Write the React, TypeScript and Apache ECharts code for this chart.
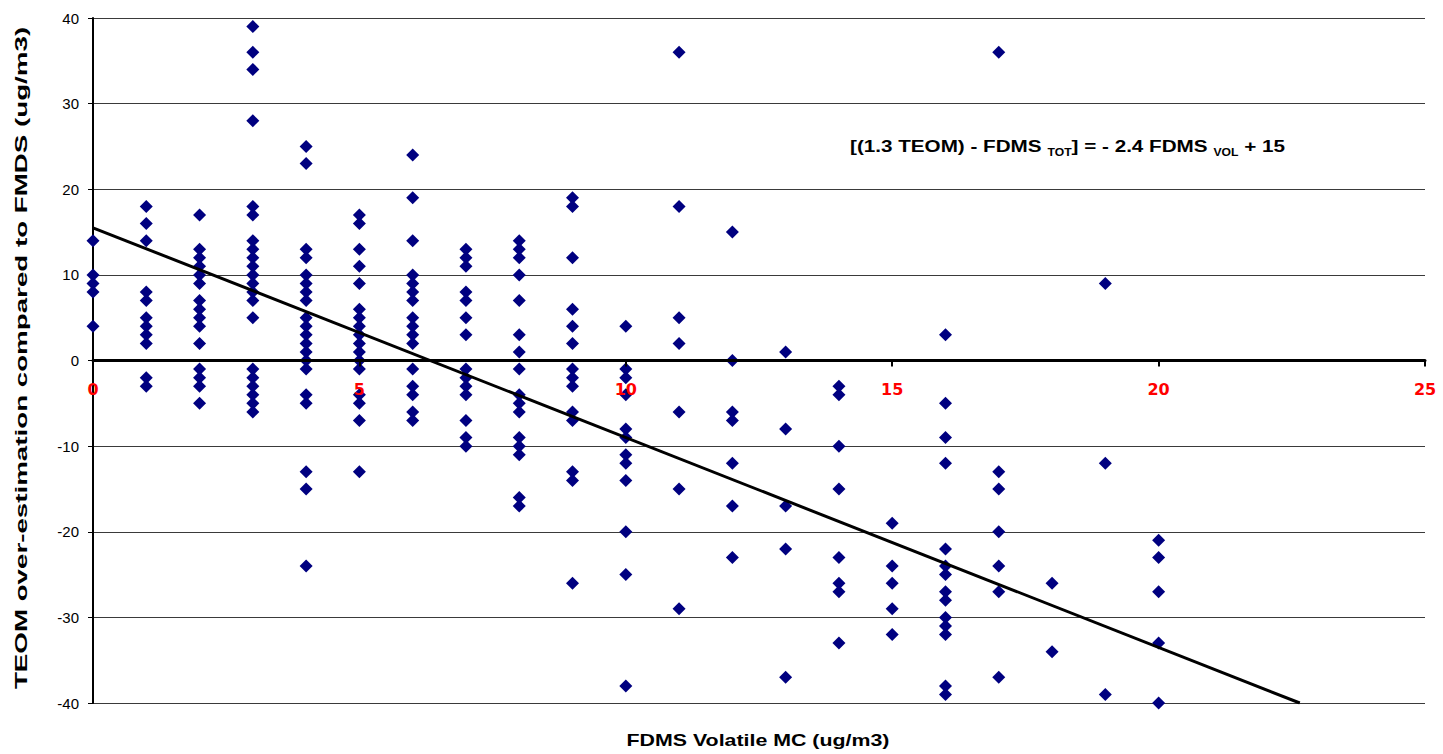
import React, { useEffect, useRef } from "react";
import * as echarts from "echarts";

// FDMS volatile MC (x) and TEOM over-estimation values (y) per x column
const volatileMC = [0, 1, 2, 3, 4, 5, 6, 7, 8, 9, 10, 11, 12, 13, 14, 15, 16, 17, 18, 19, 20];
const overEstimation: number[][] = [
  [14, 10, 9, 8, 4],
  [18, 16, 14, 8, 7, 5, 4, 3, 2, -2, -3],
  [17, 13, 12, 11, 10, 9, 7, 6, 5, 4, 2, -1, -2, -3, -5],
  [39, 36, 34, 28, 18, 17, 14, 13, 12, 11, 10, 9, 8, 7, 5, -1, -2, -3, -4, -5, -6],
  [25, 23, 13, 12, 10, 9, 8, 7, 5, 4, 3, 2, 1, 0, -1, -4, -5, -13, -15, -24],
  [17, 16, 13, 11, 9, 6, 5, 4, 3, 2, 1, 0, -1, -4, -5, -7, -13],
  [24, 19, 14, 10, 9, 8, 7, 5, 4, 3, 2, -1, -3, -4, -6, -7],
  [13, 12, 11, 8, 7, 5, 3, -1, -2, -3, -4, -7, -9, -10],
  [14, 13, 12, 10, 7, 3, 1, -1, -4, -5, -6, -9, -10, -11, -16, -17],
  [19, 18, 12, 6, 4, 2, -1, -2, -3, -6, -7, -13, -14, -26],
  [4, -1, -2, -4, -8, -9, -11, -12, -14, -20, -25, -38],
  [36, 18, 5, 2, -6, -15, -29],
  [15, 0, -6, -7, -12, -17, -23],
  [1, -8, -17, -22, -37],
  [-3, -4, -10, -15, -23, -26, -27, -33],
  [-19, -24, -26, -29, -32],
  [3, -5, -9, -12, -22, -24, -25, -27, -28, -30, -31, -32, -38, -39],
  [36, -13, -15, -20, -24, -27, -37],
  [-26, -34],
  [9, -12, -39],
  [-21, -23, -27, -33, -40],
];

// Regression line end points (x, y)
const trendX = [0, 22.65];
const trendY = [15.5, -40];

const xTicks = { min: 0, max: 25, interval: 5 };
const yTicks = { min: -40, max: 40, interval: 10 };

const yAxisTitle = "TEOM over-estimation compared to FMDS (ug/m3)";
const xAxisTitle = "FDMS Volatile MC (ug/m3)";
const eqParts = ["[(1.3 TEOM) - FDMS ", "TOT", "] = - 2.4 FDMS ", "VOL", " + 15"];

const FONT = "'Liberation Sans', Arial, sans-serif";

function measure(text: string, font: string): number {
  const ctx = document.createElement("canvas").getContext("2d");
  if (!ctx) return text.length * 8;
  ctx.font = font;
  return ctx.measureText(text).width;
}

export default function App() {
  const ref = useRef<HTMLDivElement>(null);

  useEffect(() => {
    if (!ref.current) return;
    const chart = echarts.init(ref.current, undefined, { renderer: "svg" });

    const points: number[][] = [];
    volatileMC.forEach((x, i) => {
      overEstimation[i].forEach((y) => points.push([x, y]));
    });
    const trend = trendX.map((x, i) => [x, trendY[i]]);

    const gridTop = 18;
    const gridBottom = 51;
    const plotH = 754 - gridTop - gridBottom;
    const zeroOffset = -plotH * (0 - yTicks.min) / (yTicks.max - yTicks.min);

    const titleFont = `bold 16px ${FONT}`;
    const yTitleScale = 663 / measure(yAxisTitle, titleFont);
    const xTitleScale = 263 / measure(xAxisTitle, titleFont);

    const eqMain = `bold 17px ${FONT}`;
    const eqSub = `bold 10px ${FONT}`;
    const eqWidth = eqParts.reduce(
      (s, p, i) => s + measure(p, i % 2 === 1 ? eqSub : eqMain),
      0
    );
    const eqScale = 435 / eqWidth;

    chart.setOption({
      animation: false,
      backgroundColor: "#ffffff",
      grid: { left: 93, right: 18, top: gridTop, bottom: gridBottom, containLabel: false },
      xAxis: {
        type: "value",
        min: xTicks.min,
        max: xTicks.max,
        interval: xTicks.interval,
        position: "bottom",
        offset: zeroOffset,
        axisLine: { show: true, onZero: false, lineStyle: { color: "#000", width: 3 } },
        axisTick: { show: true, inside: false, length: 6, lineStyle: { color: "#000", width: 2 } },
        axisLabel: {
          color: "#ff0000",
          fontWeight: "bold",
          fontSize: 16,
          fontFamily: "'DejaVu Sans', sans-serif",
          margin: 21,
        },
        splitLine: { show: false },
        z: 5,
      },
      yAxis: {
        type: "value",
        min: yTicks.min,
        max: yTicks.max,
        interval: yTicks.interval,
        axisLine: { show: true, onZero: false, lineStyle: { color: "#000", width: 2 } },
        axisTick: { show: true, inside: false, length: 5, lineStyle: { color: "#000" } },
        axisLabel: { color: "#000", fontSize: 15, fontFamily: FONT, margin: 14 },
        splitLine: { show: true, lineStyle: { color: "#3a3a3a", width: 1 } },
      },
      graphic: [
        {
          type: "text",
          x: 22,
          y: 358,
          rotation: Math.PI / 2,
          scaleX: yTitleScale,
          style: {
            text: yAxisTitle,
            fill: "#000",
            font: titleFont,
            align: "center",
            verticalAlign: "middle",
          },
        },
        {
          type: "text",
          x: 758,
          y: 740,
          scaleX: xTitleScale,
          style: {
            text: xAxisTitle,
            fill: "#000",
            font: titleFont,
            align: "center",
            verticalAlign: "middle",
          },
        },
        {
          type: "text",
          x: 850,
          y: 146,
          scaleX: eqScale,
          style: {
            text: `${eqParts[0]}{sub|${eqParts[1]}}${eqParts[2]}{sub|${eqParts[3]}}${eqParts[4]}`,
            fill: "#000",
            font: eqMain,
            align: "left",
            verticalAlign: "middle",
            lineHeight: 22,
            rich: {
              sub: {
                fontSize: 10,
                fontWeight: "bold",
                fontFamily: FONT,
                verticalAlign: "bottom",
                lineHeight: 22,
              },
            },
          },
        },
      ],
      series: [
        {
          type: "scatter",
          data: points,
          symbol: "diamond",
          symbolSize: 13,
          itemStyle: { color: "#000080", opacity: 1 },
          z: 3,
        },
        {
          type: "line",
          data: trend,
          showSymbol: false,
          symbol: "none",
          lineStyle: { color: "#000", width: 3 },
          z: 4,
        },
      ],
    });

    return () => chart.dispose();
  }, []);

  return (
    <div
      ref={ref}
      style={{ position: "fixed", left: 0, top: 0, width: 1443, height: 754, background: "#fff" }}
    />
  );
}
